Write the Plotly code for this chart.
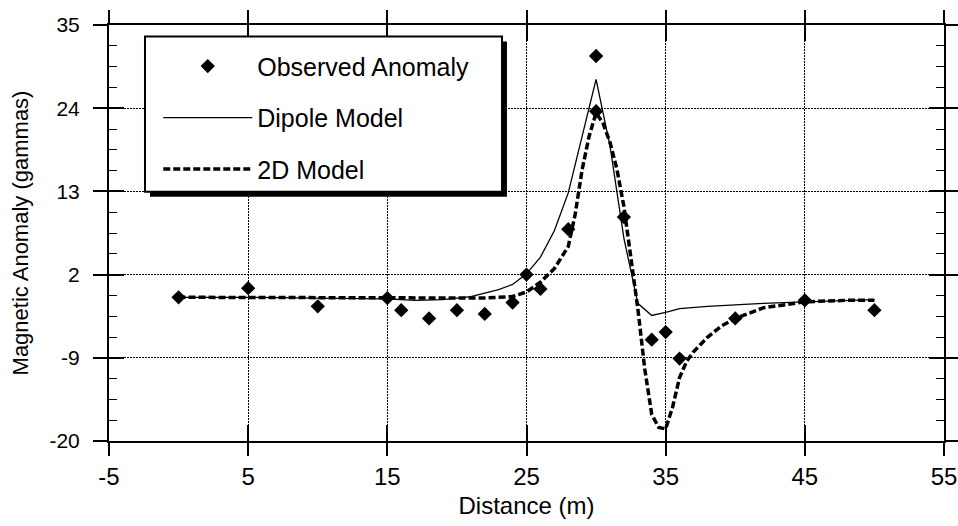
import plotly.graph_objects as go

# Observed anomaly
obs_x = [0, 5, 10, 15, 16, 18, 20, 22, 24, 25, 26, 28, 30, 30, 32, 34, 35, 36, 40, 45, 50]
obs_y = [-1.0, 0.2, -2.2, -1.1, -2.7, -3.8, -2.7, -3.2, -1.7, 2.0, 0.1, 8.0, 30.9, 23.6, 9.6, -6.6, -5.6, -9.1, -3.8, -1.4, -2.7]

# Dipole model
dip_x = [0, 5, 10, 15, 17, 19, 21, 23, 24, 25, 26, 27, 28, 29, 30, 31, 32, 33, 34, 35, 36, 38, 40, 42, 45, 48, 50]
dip_y = [-1.0, -1.0, -1.1, -1.2, -1.4, -1.3, -0.9, 0.0, 0.7, 2.1, 4.3, 7.8, 12.8, 20.5, 27.8, 19.0, 6.8, -1.8, -3.4, -3.0, -2.5, -2.2, -2.0, -1.8, -1.6, -1.4, -1.3]

# 2D model
tm_x = [0, 5, 10, 15, 20, 22, 24, 25, 26, 27, 28, 28.5, 29, 29.5, 30, 30.5, 31, 31.5, 32, 32.5, 33, 33.5,
        34, 34.5, 35, 35.5, 36, 36.5, 37, 38, 39, 40, 42, 45, 48, 50]
tm_y = [-1.0, -1.0, -1.0, -1.1, -1.1, -1.1, -0.9, -0.3, 1.0, 2.8, 5.7, 10.0, 15.9, 20.3, 23.4, 22.0, 19.5, 15.9,
        11.0, 4.0, -2.5, -10.5, -16.5, -18.2, -18.4, -15.5, -11.6, -9.5, -8.2, -6.3, -4.8, -3.8, -2.4, -1.6, -1.4, -1.4]

x_ticks = [-5, 5, 15, 25, 35, 45, 55]
x_tick_text = ["-5", "5", "15", "25", "35", "45", "55"]
y_ticks = [-20, -9, 2, 13, 24, 35]
y_tick_text = ["-20", "-9", "2", "13", "24", "35"]

FONT = "Liberation Sans, Arial, sans-serif"

fig = go.Figure()
fig.add_trace(go.Scatter(x=obs_x, y=obs_y, mode="markers", name="Observed Anomaly",
                         marker=dict(symbol="diamond", size=11, color="black"),
                         legendgroup="a"))
fig.add_trace(go.Scatter(x=dip_x, y=dip_y, mode="lines", name="Dipole Model",
                         line=dict(color="black", width=1.3), legendgroup="b"))
fig.add_trace(go.Scatter(x=tm_x, y=tm_y, mode="lines", name="2D Model",
                         line=dict(color="black", width=3.5, dash="7px,3px"), legendgroup="c"))
# empty trace to host the overlay axes for inside ticks
fig.add_trace(go.Scatter(x=[], y=[], xaxis="x2", yaxis="y2", showlegend=False, hoverinfo="skip"))

grid_dash = "2px,1px"
fig.update_layout(
    width=958, height=526,
    margin=dict(l=109, r=14, t=25, b=85),
    paper_bgcolor="white", plot_bgcolor="white",
    font=dict(family=FONT, color="black", size=20),
    xaxis=dict(range=[-5, 55], tickmode="array", tickvals=x_ticks, ticktext=x_tick_text,
               ticks="outside", ticklen=13, tickwidth=1.5,
               tickcolor="black", showline=True, linecolor="black", linewidth=2, mirror="allticks",
               showgrid=True, gridcolor="black", gridwidth=1, griddash=grid_dash, zeroline=False,
               tickfont=dict(size=24), automargin=False,
               title=dict(text="Distance (m)", font=dict(size=24), standoff=8)),
    yaxis=dict(range=[-20, 35], tickmode="array", tickvals=y_ticks, ticktext=y_tick_text,
               ticks="outside", ticklen=14,
               tickwidth=1.5, tickcolor="black", showline=True, linecolor="black", linewidth=2,
               mirror="allticks", showgrid=True, gridcolor="black", gridwidth=1, griddash=grid_dash,
               zeroline=False, tickfont=dict(size=21), ticklabelstandoff=9, automargin=False,
               title=dict(text="Magnetic Anomaly (gammas)", font=dict(size=22), standoff=15)),
    xaxis2=dict(overlaying="x", anchor="y2", range=[-5, 55], tickmode="array", tickvals=x_ticks,
                ticks="inside", ticklen=16, tickwidth=1.5, tickcolor="black", mirror="allticks",
                showline=False, showgrid=False, zeroline=False, showticklabels=False, automargin=False),
    yaxis2=dict(overlaying="y", anchor="x2", range=[-20, 35], tickmode="linear", tick0=-20, dtick=11,
                ticks="inside", ticklen=15, tickwidth=1.5, tickcolor="black", mirror="allticks",
                showline=False, showgrid=False, zeroline=False, showticklabels=False, automargin=False,
                minor=dict(tick0=-20, dtick=2.75, ticks="inside", ticklen=8, tickwidth=1.2,
                           tickcolor="black", showgrid=False)),
    showlegend=True,
    legend=dict(x=0.059, y=0.956, xanchor="left", yanchor="top", bgcolor="rgba(0,0,0,0)",
                borderwidth=0, font=dict(size=25, family=FONT), traceorder="grouped",
                tracegroupgap=16, itemwidth=89),
    shapes=[
        dict(type="rect", xref="paper", yref="paper", x0=0.0491, x1=0.4766, y0=0.5872, y1=0.9603,
             fillcolor="black", line=dict(width=0), layer="above"),
        dict(type="rect", xref="paper", yref="paper", x0=0.0431, x1=0.4707, y0=0.5993, y1=0.9723,
             fillcolor="white", line=dict(color="black", width=2), layer="above"),
    ],
)

fig.write_html("out.html")
